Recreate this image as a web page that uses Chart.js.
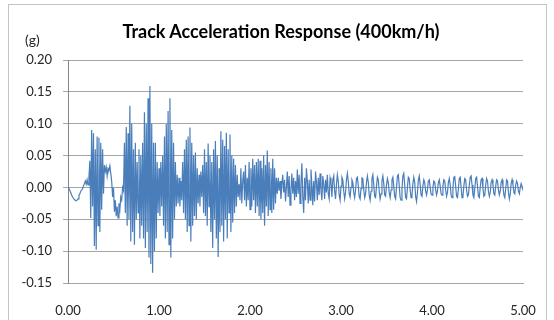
<!DOCTYPE html>
<html>
<head>
<meta charset="utf-8">
<script src="https://cdn.jsdelivr.net/npm/chart.js@4"></script>
<style>
  body { margin: 0; background: #fff; }
  #frame { position: absolute; left: 8px; top: 4px; width: 537px; height: 340px; border: 1px solid #c4c4c4; }
  #title { position: absolute; left: 0; top: 20px; width: 562px; text-align: center; font: bold 18px Lato, sans-serif; color: #000; white-space: nowrap; }
  #unit { position: absolute; left: 25px; top: 31px; font: 14px Lato, sans-serif; color: #262626; }
  canvas { position: absolute; left: 0; top: 0; }
</style>
</head>
<body>
<div id="frame"></div>
<canvas id="chart" width="554" height="320"></canvas>
<div id="title">Track Acceleration Response (400km/h)</div>
<div id="unit">(g)</div>
<script>
/* DATA (g), one sample every 0.01 s */
const stepSec = 0.01

const acc0 = [
  0.000, -0.002, -0.005, -0.008, -0.012, -0.015, -0.017, -0.019, -0.020, -0.021,
  -0.020, -0.018, -0.013, -0.010, -0.006, -0.004, -0.002, 0.002, 0.006, 0.010,
  0.005, 0.012, 0.004, 0.015, 0.042, -0.048, 0.090, -0.030, 0.085, -0.092,
  0.060, -0.098, 0.080, -0.060, 0.078, -0.070, 0.070, -0.035, 0.060, -0.010,
  0.035, 0.025, 0.032, 0.018, 0.030, 0.028, 0.034, 0.022, 0.010, -0.015,
  0.000, -0.038, -0.020, -0.045, -0.030, -0.048, -0.025, -0.035, -0.015, -0.020,
  0.000, -0.005, 0.070, -0.040, 0.095, -0.060, 0.085, -0.050, 0.128, -0.085,
  0.100, -0.070, 0.060, -0.090, 0.070, -0.050, 0.040, -0.040, 0.060, -0.080,
  0.050, -0.060, 0.070, -0.080, 0.118, -0.095, 0.100, -0.070, 0.140, -0.110,
  0.159, -0.120, 0.100, -0.134, 0.070, -0.100, 0.070, -0.080, 0.040, -0.040
]

const acc1 = [
  0.030, -0.045, 0.040, -0.030, 0.050, -0.060, 0.080, -0.080, 0.100, -0.070,
  0.120, -0.090, 0.140, -0.110, 0.090, -0.080, 0.070, -0.050, 0.040, -0.030,
  0.020, -0.025, 0.015, -0.030, 0.010, -0.020, 0.040, -0.040, 0.060, -0.050,
  0.075, -0.070, 0.080, -0.060, 0.094, -0.085, 0.070, -0.060, 0.050, -0.045,
  0.055, -0.050, 0.030, -0.025, 0.020, -0.030, 0.025, -0.015, 0.035, -0.040,
  0.060, -0.045, 0.040, -0.060, 0.069, -0.030, 0.050, -0.070, 0.040, -0.095,
  0.060, -0.050, 0.073, -0.080, 0.050, -0.109, 0.030, -0.070, 0.088, -0.060,
  0.075, -0.085, 0.065, -0.050, 0.086, -0.080, 0.060, -0.040, 0.083, -0.070,
  0.050, -0.055, 0.045, -0.040, 0.035, -0.030, 0.020, -0.015, 0.005, -0.020,
  0.030, -0.025, 0.010, 0.025, -0.020, 0.035, -0.030, 0.015, -0.020, 0.040
]

const acc2 = [
  -0.035, 0.030, -0.030, 0.045, -0.020, 0.035, -0.040, 0.040, -0.030, 0.045,
  -0.045, 0.042, -0.050, 0.030, -0.040, 0.050, -0.060, 0.035, -0.030, 0.058,
  -0.045, 0.040, -0.035, 0.030, -0.040, 0.045, -0.035, 0.030, -0.025, 0.015,
  -0.010, 0.015, -0.005, 0.010, -0.018, 0.005, 0.020, -0.008, 0.012, -0.022,
  0.000, 0.025, -0.015, 0.018, -0.028, -0.005, 0.022, -0.010, 0.015, -0.020,
  0.010, -0.015, 0.028, -0.010, 0.020, -0.025, 0.005, 0.038, -0.015, -0.040,
  0.015, -0.020, 0.030, 0.010, -0.025, 0.012, -0.020, 0.028, 0.005, -0.028,
  0.010, -0.022, 0.025, 0.008, -0.020, 0.015, -0.012, 0.022, -0.005, -0.020,
  0.018, 0.005, -0.018, 0.012, -0.008, 0.020, -0.010, -0.018, 0.015, 0.008,
  -0.015, 0.012, 0.018, -0.006, -0.018, 0.004, 0.020, 0.010, -0.012, -0.020
]

const acc3 = [
  0.002, 0.016, 0.012, -0.006, -0.018, -0.008, 0.012, 0.022, 0.010, -0.010,
  -0.015, 0.000, 0.012, 0.008, -0.008, -0.016, -0.004, 0.014, 0.016, 0.002,
  -0.014, -0.018, -0.002, 0.015, 0.014, -0.004, -0.016, -0.010, 0.008, 0.018,
  0.008, -0.012, -0.020, -0.006, 0.014, 0.020, 0.004, -0.014, -0.016, 0.002,
  0.016, 0.012, -0.006, -0.018, -0.010, 0.010, 0.018, 0.006, -0.012, -0.014,
  0.004, 0.014, 0.008, -0.008, -0.016, -0.004, 0.012, 0.016, 0.002, -0.014,
  -0.018, 0.000, 0.018, 0.020, 0.002, -0.016, -0.020, -0.002, 0.018, 0.022,
  0.004, -0.016, -0.018, 0.000, 0.016, 0.014, -0.004, -0.016, -0.012, 0.006,
  0.016, 0.008, -0.014, -0.022, -0.008, 0.012, 0.018, 0.004, -0.012, -0.014,
  0.002, 0.012, 0.008, -0.006, -0.012, -0.004, 0.010, 0.012, 0.000, -0.010
]

const acc4 = [
  -0.012, 0.000, 0.010, 0.008, -0.004, -0.012, -0.006, 0.008, 0.012, 0.002,
  -0.010, -0.012, 0.002, 0.012, 0.010, -0.004, -0.014, -0.008, 0.008, 0.014,
  0.004, -0.012, -0.016, 0.000, 0.016, 0.017, 0.002, -0.014, -0.016, -0.002,
  0.014, 0.016, 0.000, -0.016, -0.014, 0.002, 0.014, 0.012, -0.004, -0.014,
  -0.012, 0.004, 0.016, 0.018, 0.004, -0.012, -0.016, -0.002, 0.014, 0.016,
  0.002, -0.014, -0.016, 0.000, 0.012, 0.014, -0.002, -0.014, -0.012, 0.004,
  0.014, 0.010, -0.006, -0.014, -0.008, 0.008, 0.012, 0.004, -0.010, -0.012,
  0.002, 0.012, 0.010, -0.004, -0.012, -0.006, 0.008, 0.012, 0.002, -0.012,
  -0.016, -0.002, 0.012, 0.010, -0.008, -0.018, -0.010, 0.006, 0.012, 0.004,
  -0.008, -0.010, 0.004, 0.010, 0.006, -0.006, -0.010, 0.000, 0.006, 0.002,
  -0.005
]

const xTicks = [0, 1, 2, 3, 4, 5]
const yRange = [-0.15, 0.20]

/* BUILD POINTS */
const response = [...acc0, ...acc1, ...acc2, ...acc3, ...acc4].map((v, i) => {
  return { x: +(i * stepSec).toFixed(2), y: v }
})

const fmt = (v) => Math.abs(v) < 1e-9 ? '0.00' : v.toFixed(2)
const tickFont = { family: 'Lato', size: 13 }

new Chart(document.getElementById('chart'), {
  type: 'line',
  data: {
    datasets: [{
      data: response,
      borderColor: '#4a7ebb',
      borderWidth: 1.2,
      pointRadius: 0,
      tension: 0
    }]
  },
  options: {
    responsive: false,
    animation: false,
    devicePixelRatio: 1,
    layout: { padding: { left: 0, right: 31, top: 60, bottom: 0 } },
    plugins: { legend: { display: false }, tooltip: { enabled: false } },
    scales: {
      x: {
        type: 'linear',
        min: xTicks[0],
        max: xTicks[xTicks.length - 1],
        afterBuildTicks: (scale) => { scale.ticks = xTicks.map(v => ({ value: v })) },
        afterFit: (scale) => { scale.height = 37 },
        grid: { display: false },
        border: { color: '#a6a6a6' },
        ticks: { callback: fmt, color: '#262626', font: tickFont, padding: 12, maxRotation: 0 }
      },
      y: {
        min: yRange[0],
        max: yRange[1],
        afterFit: (scale) => { scale.width = 68 },
        grid: { color: '#a6a6a6', tickLength: 5 },
        border: { color: '#868686' },
        ticks: { stepSize: 0.05, callback: fmt, color: '#262626', font: tickFont, padding: 11 }
      }
    }
  }
})
</script>
</body>
</html>
